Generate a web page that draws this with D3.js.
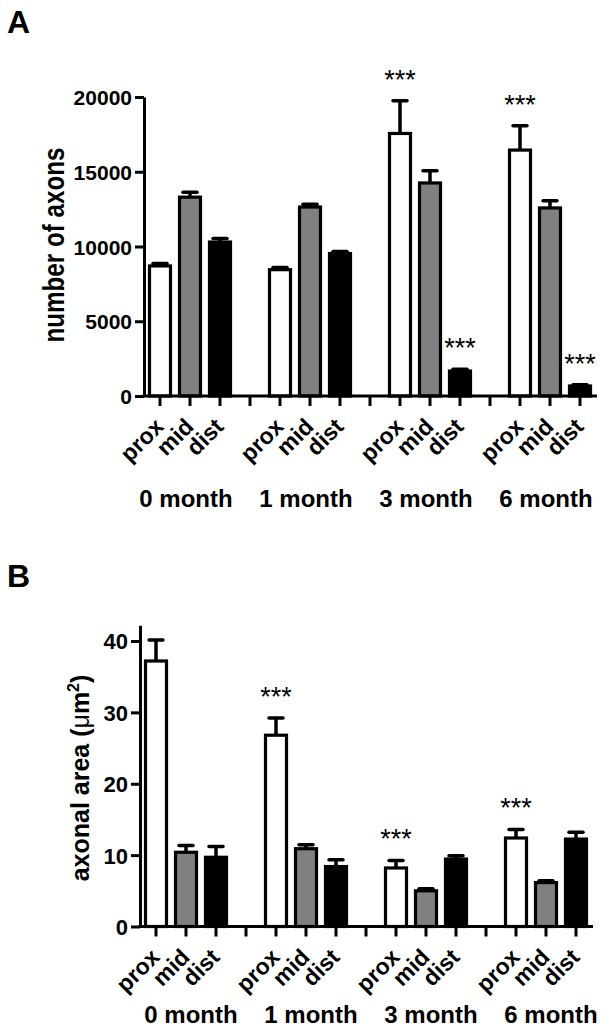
<!DOCTYPE html>
<html>
<head>
<meta charset="utf-8">
<script src="https://cdn.jsdelivr.net/npm/d3@7"></script>
<style>
  body { margin: 0; background: #fff; }
  svg text { font-family: "Liberation Sans", Arial, sans-serif; }
</style>
</head>
<body>
<svg id="fig" width="607" height="1032"></svg>
<script>
// groups and bar categories
var months = ["0 month", "1 month", "3 month", "6 month"];
var regions = ["prox", "mid", "dist"];
var fills = ["#ffffff", "#808080", "#000000"];

// panel A: number of axons (mean, SEM), order month x region
var axonMean = [8700, 13300, 10300, 8450, 12640, 9530, 17560, 14250, 1670, 16450, 12580, 670];
var axonErr = [160, 330, 230, 150, 190, 140, 2190, 810, 120, 1620, 480, 80];
var axonStars = [6, 8, 9, 11];
var axonTicks = [0, 5000, 10000, 15000, 20000];

// panel B: axonal area (um^2)
var areaMean = [37.2, 10.4, 9.7, 26.8, 10.9, 8.4, 8.2, 5.0, 9.45, 12.4, 6.15, 12.25];
var areaErr = [2.95, 0.95, 1.5, 2.4, 0.55, 0.95, 1.05, 0.3, 0.45, 1.2, 0.25, 0.95];
var areaStars = [3, 6, 9];
var areaTicks = [0, 10, 20, 30, 40];

var svg = d3.select("#fig");

function drawPanel(cfg) {
  var g = svg.append("g");

  // 15 slots: 3 bars per month plus an empty slot between months
  var slots = d3.range(15);
  var x = d3.scaleBand().domain(slots).range([cfg.x0 + 1, cfg.x0 + 451]).padding(0);
  var y = d3.scaleLinear().domain([0, cfg.yMax]).range([cfg.y0, cfg.y1]);
  var barW = 21;

  var rows = cfg.mean.map(function (m, i) {
    var gi = Math.floor(i / 3), ri = i % 3;
    return { slot: gi * 4 + ri, region: ri, mean: m, err: cfg.err[i], star: cfg.stars.indexOf(i) >= 0 };
  });

  // panel letter
  g.append("text")
    .attr("x", 7).attr("y", cfg.letterY)
    .attr("font-size", 32).attr("font-weight", "bold")
    .text(cfg.letter);

  // error bars (drawn first so the bar outline sits on top)
  var eb = g.selectAll(".err").data(rows).enter().append("g").attr("class", "err")
    .attr("stroke", "#000").attr("stroke-width", 3.5);
  eb.append("line")
    .attr("x1", d => x(d.slot) + x.bandwidth() / 2)
    .attr("x2", d => x(d.slot) + x.bandwidth() / 2)
    .attr("y1", d => y(d.mean))
    .attr("y2", d => y(d.mean + d.err));
  eb.append("line")
    .attr("x1", d => x(d.slot) + x.bandwidth() / 2 - 7)
    .attr("x2", d => x(d.slot) + x.bandwidth() / 2 + 7)
    .attr("y1", d => y(d.mean + d.err))
    .attr("y2", d => y(d.mean + d.err))
    .attr("stroke-linecap", "round");

  // bars
  g.selectAll(".bar").data(rows).enter().append("rect")
    .attr("class", "bar")
    .attr("x", d => x(d.slot) + (x.bandwidth() - barW) / 2)
    .attr("width", barW)
    .attr("y", d => y(d.mean))
    .attr("height", d => y(0) - y(d.mean))
    .attr("fill", d => fills[d.region])
    .attr("stroke", "#000")
    .attr("stroke-width", 3.2);

  // significance stars
  g.selectAll(".star").data(rows.filter(d => d.star)).enter().append("text")
    .attr("class", "star")
    .attr("x", d => x(d.slot) + x.bandwidth() / 2)
    .attr("y", d => y(d.mean + d.err) - 12)
    .attr("text-anchor", "middle")
    .attr("font-size", 27)
    .text("***");

  // y axis
  var yAxis = g.append("g")
    .attr("transform", "translate(" + cfg.x0 + ",0)")
    .call(d3.axisLeft(y).tickValues(cfg.ticks).tickFormat(d3.format("d"))
      .tickSize(9).tickSizeOuter(0).tickPadding(3));
  yAxis.select(".domain").attr("stroke-width", 3);
  yAxis.selectAll(".tick line").attr("stroke-width", 3);
  yAxis.selectAll(".tick text")
    .attr("font-size", cfg.tickFont).attr("font-weight", "bold").attr("fill", "#000")
    .attr("font-family", "'Liberation Sans', Arial, sans-serif")
    .attr("dy", "0.36em");

  // x axis
  var xAxis = g.append("g")
    .attr("transform", "translate(0," + cfg.y0 + ")")
    .call(d3.axisBottom(x).tickSize(10).tickSizeOuter(0).tickFormat(""));
  xAxis.select(".domain").remove();
  xAxis.selectAll(".tick line").attr("stroke-width", 3);
  g.append("line")
    .attr("x1", cfg.x0 - 1.5).attr("x2", cfg.x0 + 453)
    .attr("y1", cfg.y0).attr("y2", cfg.y0)
    .attr("stroke", "#000").attr("stroke-width", 3);

  // rotated region labels
  g.selectAll(".reg").data(rows).enter().append("text")
    .attr("class", "reg")
    .attr("transform", d => "translate(" + (x(d.slot) + x.bandwidth() / 2 + 5) + "," + (cfg.y0 + 32) + ") rotate(-45)")
    .attr("text-anchor", "end")
    .attr("font-size", 23).attr("font-weight", "bold")
    .text(d => regions[d.region]);

  // month labels
  g.selectAll(".month").data(months).enter().append("text")
    .attr("class", "month")
    .attr("x", (d, i) => x(i * 4 + 1) + x.bandwidth() / 2 + cfg.monthDx)
    .attr("y", cfg.monthY)
    .attr("text-anchor", "middle")
    .attr("font-size", 24).attr("font-weight", "bold")
    .text(d => d);

  return g;
}

var gA = drawPanel({
  letter: "A", letterY: 33,
  mean: axonMean, err: axonErr, stars: axonStars, ticks: axonTicks,
  yMax: 20000, x0: 144, y0: 396, y1: 97, tickFont: 21,
  monthY: 507, monthDx: -4
});
gA.append("text")
  .attr("transform", "translate(64,245) rotate(-90)")
  .attr("text-anchor", "middle")
  .attr("font-size", 30).attr("font-weight", "bold")
  .attr("textLength", 195).attr("lengthAdjust", "spacingAndGlyphs")
  .text("number of axons");

var gB = drawPanel({
  letter: "B", letterY: 587,
  mean: areaMean, err: areaErr, stars: areaStars, ticks: areaTicks,
  yMax: 42.2, x0: 140, y0: 926.5, y1: 625.3, tickFont: 22,
  monthY: 1023, monthDx: 5
});
var tB = gB.append("text")
  .attr("transform", "translate(89,778) rotate(-90)")
  .attr("text-anchor", "middle")
  .attr("font-size", 25).attr("font-weight", "bold");
tB.append("tspan").text("axonal area (");
tB.append("tspan").attr("font-weight", "normal").text("\u03bc");
tB.append("tspan").text("m");
tB.append("tspan").attr("font-size", 16).attr("dy", -10).text("2");
tB.append("tspan").attr("dy", 10).text(")");
</script>
</body>
</html>
